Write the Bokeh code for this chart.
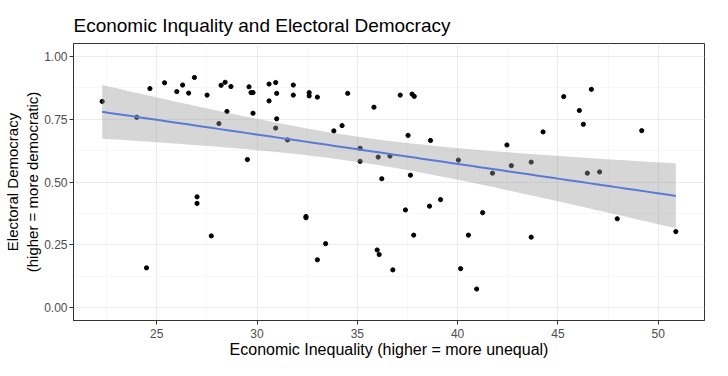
import numpy as np
from bokeh.plotting import figure
from bokeh.models import ColumnDataSource, FixedTicker, Range1d, Band
from bokeh.embed import file_html
from bokeh.resources import INLINE

# ---- data ----
inequality = [22.28, 24.0, 24.66, 25.39, 26.0, 26.29, 26.59, 26.88, 27.51, 28.1,
              28.21, 28.41, 28.5, 28.7, 29.52, 29.6, 29.7, 29.8, 29.8, 30.6,
              30.6, 30.93, 30.98, 30.98, 30.93, 31.52, 31.81, 31.81, 32.6, 32.6,
              33.01, 33.83, 34.24, 34.52, 35.14, 35.14, 35.83, 36.04, 36.22, 36.63,
              37.14, 37.53, 37.65, 37.73, 37.84, 38.65, 40.04, 41.74, 42.46, 42.68,
              43.67, 44.26, 45.29, 46.07, 46.27, 46.67, 46.47, 47.08, 49.18, 27.01,
              27.01, 27.72, 24.49, 32.44, 32.44, 33.42, 33.01, 35.99, 36.09, 36.77,
              37.4, 37.81, 38.6, 39.15, 40.15, 40.54, 41.25, 40.95, 43.67, 47.96,
              50.88]
democracy = [0.82, 0.757, 0.871, 0.894, 0.859, 0.885, 0.853, 0.915, 0.845, 0.732,
             0.884, 0.896, 0.78, 0.879, 0.589, 0.878, 0.855, 0.855, 0.773, 0.889,
             0.822, 0.895, 0.852, 0.751, 0.714, 0.667, 0.885, 0.845, 0.855, 0.842,
             0.837, 0.703, 0.724, 0.852, 0.634, 0.582, 0.797, 0.599, 0.513, 0.603,
             0.845, 0.685, 0.527, 0.849, 0.84, 0.665, 0.587, 0.535, 0.647, 0.565,
             0.579, 0.699, 0.839, 0.784, 0.729, 0.868, 0.535, 0.54, 0.704, 0.441,
             0.415, 0.286, 0.159, 0.363, 0.358, 0.255, 0.191, 0.23, 0.212, 0.151,
             0.389, 0.289, 0.404, 0.43, 0.156, 0.289, 0.378, 0.075, 0.281, 0.354,
             0.303]
x_ticks = [25, 30, 35, 40, 45, 50]
y_ticks = [0.0, 0.25, 0.5, 0.75, 1.0]
y_tick_labels = ["0.00", "0.25", "0.50", "0.75", "1.00"]

title_text = "Economic Inquality and Electoral Democracy"
x_label = "Economic Inequality (higher = more unequal)"
y_label = "Electoral Democracy\n(higher = more democratic)"

# ---- linear fit with 95% confidence band (like geom_smooth(method="lm")) ----
x = np.array(inequality)
y = np.array(democracy)
n = len(x)
b1, b0 = np.polyfit(x, y, 1)
resid = y - (b0 + b1 * x)
s = np.sqrt(np.sum(resid ** 2) / (n - 2))
sxx = np.sum((x - x.mean()) ** 2)
df = n - 2
z = 1.959964
tq = z + (z**3 + z) / (4 * df) + (5 * z**5 + 16 * z**3 + 3 * z) / (96 * df**2)
xs = np.linspace(x.min(), x.max(), 80)
fit = b0 + b1 * xs
se = s * np.sqrt(1.0 / n + (xs - x.mean()) ** 2 / sxx)
fit_src = ColumnDataSource(dict(x=xs, y=fit, lower=fit - tq * se, upper=fit + tq * se))
pts_src = ColumnDataSource(dict(x=inequality, y=democracy))

xpad = (x.max() - x.min()) * 0.05
p = figure(width=712, height=360, output_backend="svg", toolbar_location=None,
           x_range=Range1d(x.min() - xpad, x.max() + xpad),
           y_range=Range1d(-0.05, 1.05),
           min_border_left=65, min_border_right=8, min_border_top=43, min_border_bottom=33)
p.title.text = title_text
p.title.text_font = "Liberation Sans"
p.title.text_font_size = "19px"
p.title.text_font_style = "normal"
p.title.text_color = "black"
p.title.offset = 0
p.title.standoff = 15

p.background_fill_color = "white"
p.border_fill_color = "white"
p.outline_line_color = "#333333"
p.outline_line_width = 1

# grid
p.xgrid.ticker = FixedTicker(ticks=x_ticks, minor_ticks=[22.5, 27.5, 32.5, 37.5, 42.5, 47.5, 52.5])
p.ygrid.ticker = FixedTicker(ticks=y_ticks, minor_ticks=[0.125, 0.375, 0.625, 0.875])
for g in (p.xgrid, p.ygrid):
    g.grid_line_color = "#EBEBEB"
    g.grid_line_width = 1.1
    g.minor_grid_line_color = "#F2F2F2"
    g.minor_grid_line_width = 0.6

# axes
p.xaxis.ticker = FixedTicker(ticks=x_ticks)
p.yaxis.ticker = FixedTicker(ticks=y_ticks)
p.yaxis.major_label_overrides = {t: l for t, l in zip(y_ticks, y_tick_labels)}
p.xaxis.axis_label = x_label
p.yaxis.axis_label = y_label
for ax in (p.xaxis, p.yaxis):
    ax.axis_line_color = "#333333"
    ax.major_tick_line_color = "#333333"
    ax.major_tick_in = 0
    ax.major_tick_out = 4
    ax.minor_tick_line_color = None
    ax.major_label_text_font = "Liberation Sans"
    ax.major_label_text_font_size = "12px"
    ax.major_label_text_color = "#4D4D4D"
    ax.axis_label_text_font = "Liberation Sans"
    ax.axis_label_text_font_size = "16px"
    ax.axis_label_text_font_style = "normal"
    ax.axis_label_text_color = "black"
p.xaxis.major_label_standoff = 4
p.yaxis.major_label_standoff = 2
p.xaxis.axis_label_standoff = 0
p.yaxis.axis_label_standoff = 0
p.yaxis.axis_label_text_font_size = "15px"

# points, then band over them, then fit line
p.scatter("x", "y", source=pts_src, size=4.2, color="black")
band = Band(base="x", lower="lower", upper="upper", source=fit_src,
            fill_color="#999999", fill_alpha=0.4, line_color=None, level="glyph")
p.add_layout(band)
p.line("x", "y", source=fit_src, line_color="#3366FF", line_width=2)

open("out.html", "w").write(file_html(p, INLINE))
